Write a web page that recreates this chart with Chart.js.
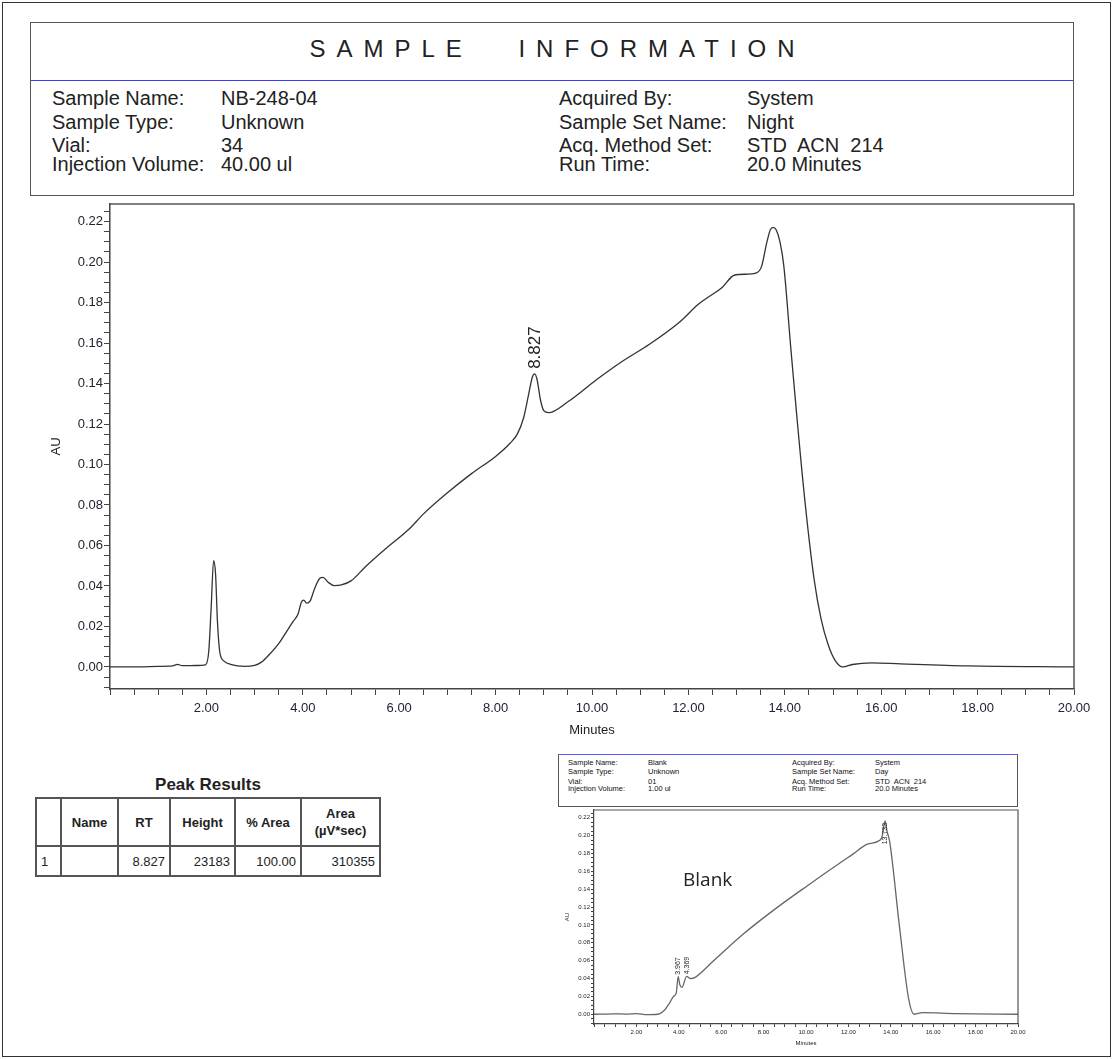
<!DOCTYPE html>
<html>
<head>
<meta charset="utf-8">
<script src="https://cdn.jsdelivr.net/npm/chart.js"></script>
<style>
  body { margin: 0; background: #fff; font-family: "Liberation Sans", Arial, sans-serif; color: #222; }
  #page { position: relative; width: 1113px; height: 1059px; overflow: hidden; }
  #frame { position: absolute; left: 2px; top: 2px; width: 1107px; height: 1053px; border: 1px solid #333; }
  .abs { position: absolute; white-space: pre; }
  #header { position: absolute; left: 30px; top: 22px; width: 1042px; height: 172px; border: 1.5px solid #555; }
  #header .title { position: absolute; left: 0; width: 100%; top: 12px; text-align: center; font-size: 24px; letter-spacing: 11px; word-spacing: 28px; padding-left: 11px; box-sizing: border-box; }
  #header .blue { position: absolute; left: 0; width: 100%; top: 57px; height: 0; border-top: 1.5px solid #3a3aff; }
  .hrow { font-size: 20px; line-height: 22px; }
  #inset-head { position: absolute; left: 558px; top: 754px; width: 458px; height: 51px; border: 1.5px solid #555; border-top: 1.5px solid #5a5aff; }
  .irow { font-size: 7.5px; line-height: 8px; color: #111; }
  #peak-title { position: absolute; left: 36px; width: 344px; top: 775px; text-align: center; font-weight: bold; font-size: 17px; }
  table { position: absolute; left: 35px; top: 797px; border-collapse: collapse; font-size: 13px; table-layout: fixed; width: 344px; }
  td, th { border: 2px solid #555; padding: 0 4px; overflow: hidden; white-space: nowrap; }
  th { height: 46px; font-weight: bold; text-align: center; line-height: 17px; }
  td { height: 28px; text-align: right; }
  #blank-label { position: absolute; left: 683px; top: 866px; font-family: "Open Sans", sans-serif; font-size: 19px; color: #222; }
</style>
</head>
<body>
<div id="page">
  <div id="frame"></div>

  <div id="header">
    <div class="title">SAMPLE INFORMATION</div>
    <div class="blue"></div>
  </div>

  <div id="inset-head"></div>

  <canvas id="mainChart" class="abs" style="left:30px; top:195px;" width="1070" height="545"></canvas>
  <canvas id="blankChart" class="abs" style="left:555px; top:805px;" width="475" height="250"></canvas>

  <div id="blank-label">Blank</div>

  <div id="peak-title">Peak Results</div>
  <table>
    <colgroup><col style="width:25px"><col style="width:57px"><col style="width:52px"><col style="width:65px"><col style="width:66px"><col style="width:79px"></colgroup>
    <tr><th></th><th>Name</th><th>RT</th><th>Height</th><th>% Area</th><th style="white-space:normal">Area<br>(µV*sec)</th></tr>
    <tr><td style="text-align:left">1</td><td></td><td id="rt"></td><td id="ht"></td><td id="pa"></td><td id="ar"></td></tr>
  </table>
</div>

<script>
// header info
const headerLabelsLeft = ["Sample Name:", "Sample Type:", "Vial:", "Injection Volume:"];
const headerValuesLeft = ["NB-248-04", "Unknown", "34", "40.00 ul"];
const headerLabelsRight = ["Acquired By:", "Sample Set Name:", "Acq. Method Set:", "Run Time:"];
const headerValuesRight = ["System", "Night", "STD  ACN  214", "20.0 Minutes"];
const blankValuesLeft = ["Blank", "Unknown", "01", "1.00 ul"];
const blankValuesRight = ["System", "Day", "STD  ACN  214", "20.0 Minutes"];

// main chromatogram (minutes, AU)
const mainTimes = [0.00, 0.60, 1.00, 1.30, 1.40, 1.50, 1.80, 1.98, 2.05, 2.10, 2.15, 2.19, 2.23, 2.28, 2.36, 2.50, 2.80,
  3.00, 3.15, 3.30, 3.50, 3.65, 3.80, 3.90, 3.97, 4.02, 4.08, 4.15, 4.25, 4.35, 4.42, 4.52, 4.65, 4.80, 5.00, 5.30,
  5.70, 6.20, 6.50, 7.00, 7.50, 8.00, 8.30, 8.45, 8.58, 8.68, 8.76, 8.81, 8.86, 8.93, 9.00, 9.10, 9.50, 10.10, 10.60,
  11.20, 11.80, 12.20, 12.40, 12.70, 12.95, 13.20, 13.40, 13.52, 13.62, 13.70, 13.76, 13.82, 13.90, 13.98, 14.13,
  14.40, 14.61, 14.75, 14.90, 15.05, 15.20, 15.40, 15.80, 16.40, 17.80, 20.00];
const mainAU = [0.0000, 0.0000, 0.0003, 0.0005, 0.0013, 0.0006, 0.0007, 0.0010, 0.0080, 0.0300, 0.0525, 0.0460, 0.0220, 0.0070, 0.0030, 0.0013, 0.0003,
  0.0008, 0.0025, 0.0060, 0.0115, 0.0170, 0.0225, 0.0260, 0.0320, 0.0330, 0.0315, 0.0325, 0.0390, 0.0437, 0.0442, 0.0420, 0.0402, 0.0405, 0.0425, 0.0495,
  0.0580, 0.0680, 0.0755, 0.0860, 0.0955, 0.1040, 0.1105, 0.1150, 0.1230, 0.1340, 0.1430, 0.1448, 0.1420, 0.1320, 0.1266, 0.1256, 0.1310, 0.1420, 0.1505,
  0.1595, 0.1700, 0.1790, 0.1825, 0.1875, 0.1935, 0.1940, 0.1945, 0.1980, 0.2090, 0.2160, 0.2172, 0.2160, 0.2100, 0.1980, 0.1560,
  0.0860, 0.0430, 0.0240, 0.0110, 0.0030, 0.0000, 0.0012, 0.0020, 0.0015, 0.0005, 0.0000];

// blank chromatogram
const blankTimes = [0.00, 1.00, 1.50, 2.00, 2.50, 3.00, 3.30, 3.55, 3.75, 3.88, 3.97, 4.05, 4.15, 4.37, 4.55, 4.75, 5.60,
  7.00, 8.55, 10.10, 11.70, 12.20, 12.90, 13.50, 13.60, 13.73, 13.82, 13.95, 14.40, 14.85, 15.10, 15.50, 17.00, 20.00];
const blankAU = [0.0000, 0.0005, 0.0002, 0.0008, -0.0005, 0.0000, 0.0040, 0.0120, 0.0200, 0.0240, 0.0420, 0.0330, 0.0300, 0.0425, 0.0400, 0.0410, 0.0590,
  0.0890, 0.1180, 0.1445, 0.1710, 0.1790, 0.1905, 0.1950, 0.2000, 0.2165, 0.2050, 0.1930, 0.1000, 0.0160, 0.0000, 0.0018, 0.0008, 0.0000];

// peak labels
const mainPeakRT = [8.827];
const mainPeakAU = [0.1448];
const blankPeakRT = [3.967, 4.369, 13.733];
const blankPeakAU = [0.0420, 0.0425, 0.2165];

// peak results table
const peakRT = "8.827", peakHeight = "23183", peakPctArea = "100.00", peakArea = "310355";

// ticks
const xTickLabels = ["2.00", "4.00", "6.00", "8.00", "10.00", "12.00", "14.00", "16.00", "18.00", "20.00"];
const yTickLabels = ["0.00", "0.02", "0.04", "0.06", "0.08", "0.10", "0.12", "0.14", "0.16", "0.18", "0.20", "0.22"];
const xMinorStep = 0.5, yMinorStep = 0.005;
const yMin = -0.0109, yMax = 0.2287;

// --- header text
function addText(parent, cls, text, left, top) {
    const d = document.createElement("div");
    d.className = "abs " + cls;
    d.style.left = left + "px";
    d.style.top = top + "px";
    d.textContent = text;
    parent.appendChild(d);
}
const header = document.getElementById("header");
const rowTops = [64, 88, 111, 130];
headerLabelsLeft.forEach((t, i) => addText(header, "hrow", t, 21, rowTops[i]));
headerValuesLeft.forEach((t, i) => addText(header, "hrow", t, 190, rowTops[i]));
headerLabelsRight.forEach((t, i) => addText(header, "hrow", t, 528, rowTops[i]));
headerValuesRight.forEach((t, i) => addText(header, "hrow", t, 716, rowTops[i]));

const inset = document.getElementById("inset-head");
const iTops = [4, 13, 23, 30];
headerLabelsLeft.forEach((t, i) => addText(inset, "irow", t, 9, iTops[i]));
blankValuesLeft.forEach((t, i) => addText(inset, "irow", t, 89, iTops[i]));
headerLabelsRight.forEach((t, i) => addText(inset, "irow", t, 233, iTops[i]));
blankValuesRight.forEach((t, i) => addText(inset, "irow", t, 316, iTops[i]));

document.getElementById("rt").textContent = peakRT;
document.getElementById("ht").textContent = peakHeight;
document.getElementById("pa").textContent = peakPctArea;
document.getElementById("ar").textContent = peakArea;

// --- charts
function tickList(min, max, step) {
    const out = [];
    for (let k = Math.ceil(min / step); k * step <= max + 1e-9; k++) out.push({ value: +(k * step).toFixed(4) });
    return out;
}

const boxPlugin = {
    id: "box",
    afterDraw(chart, args, opts) {
        const { ctx, chartArea: a } = chart;
        ctx.save();
        ctx.strokeStyle = opts.color;
        ctx.lineWidth = opts.width;
        ctx.beginPath();
        ctx.moveTo(a.left, a.top);
        ctx.lineTo(a.right, a.top);
        ctx.lineTo(a.right, a.bottom);
        ctx.stroke();
        ctx.restore();
    }
};

const peakLabelPlugin = {
    id: "peakLabels",
    afterDatasetsDraw(chart, args, opts) {
        const { ctx, scales } = chart;
        ctx.save();
        ctx.font = opts.size + "px 'Liberation Sans', Arial, sans-serif";
        ctx.fillStyle = "#222";
        opts.rt.forEach((rt, i) => {
            const px = scales.x.getPixelForValue(rt);
            const py = scales.y.getPixelForValue(opts.au[i]);
            ctx.save();
            ctx.translate(px, py);
            ctx.rotate(-Math.PI / 2);
            ctx.textBaseline = "middle";
            if (opts.below && opts.below[i]) {
                ctx.textAlign = "right";
                ctx.fillText(rt.toFixed(3), -opts.gap, 0);
            } else {
                ctx.textAlign = "left";
                ctx.fillText(rt.toFixed(3), opts.gap, 0);
            }
            ctx.restore();
        });
        ctx.restore();
    }
};

function makeChart(id, times, values, cfg) {
    const points = times.map((t, i) => ({ x: t, y: values[i] }));
    return new Chart(document.getElementById(id), {
        type: "line",
        data: { datasets: [{ data: points, borderColor: cfg.lineColor, borderWidth: cfg.lineWidth, pointRadius: 0, tension: 0.4, cubicInterpolationMode: "monotone", fill: false }] },
        plugins: [boxPlugin, peakLabelPlugin],
        options: {
            responsive: false,
            animation: false,
            layout: { padding: { top: cfg.padTop, right: cfg.padRight, left: 0, bottom: 0 } },
            plugins: {
                legend: { display: false },
                tooltip: { enabled: false },
                box: { color: "#555", width: cfg.boxWidth },
                peakLabels: { rt: cfg.peakRT, au: cfg.peakAU, below: cfg.below, size: cfg.peakFont, gap: cfg.peakGap }
            },
            scales: {
                x: {
                    type: "linear", min: 0, max: 20,
                    afterBuildTicks: ax => { ax.ticks = tickList(0, 20, xMinorStep); },
                    afterFit: ax => { ax.height = cfg.xHeight; },
                    ticks: {
                        autoSkip: false, maxRotation: 0, color: "#223", padding: cfg.tickPad,
                        font: { family: "'Liberation Sans', Arial, sans-serif", size: cfg.tickFont },
                        callback: v => { const s = v.toFixed(2); return xTickLabels.includes(s) ? s : ""; }
                    },
                    grid: { drawOnChartArea: false, tickLength: cfg.tickLen, color: "#444", tickWidth: 1 },
                    border: { color: "#444", width: cfg.boxWidth },
                    title: { display: true, text: "Minutes", color: "#222", padding: { bottom: cfg.minPad, top: 0 },
                        font: { family: "'Liberation Sans', Arial, sans-serif", size: cfg.titleFont } }
                },
                y: {
                    min: yMin, max: yMax,
                    afterBuildTicks: ax => { ax.ticks = tickList(yMin, yMax, yMinorStep); },
                    afterFit: ax => { ax.width = cfg.yWidth; },
                    ticks: {
                        autoSkip: false, color: "#223", padding: 1,
                        font: { family: "'Liberation Sans', Arial, sans-serif", size: cfg.tickFont },
                        callback: v => { const s = (Math.abs(v) < 1e-9 ? 0 : v).toFixed(2); return (yTickLabels.includes(s) && Math.abs(v - +s) < 1e-6) ? s : ""; }
                    },
                    grid: { drawOnChartArea: false, tickLength: cfg.tickLen, color: "#444", tickWidth: 1 },
                    border: { color: "#444", width: cfg.boxWidth },
                    title: { display: true, text: "AU", color: "#222", padding: { top: cfg.auPad, bottom: 0 },
                        font: { family: "'Liberation Sans', Arial, sans-serif", size: cfg.titleFont } }
                }
            }
        }
    });
}

makeChart("mainChart", mainTimes, mainAU, {
    lineColor: "#333", lineWidth: 1.3, boxWidth: 1.5, padTop: 9, padRight: 26,
    xHeight: 51, yWidth: 80, tickFont: 13, titleFont: 13, tickLen: 6, tickPad: 6,
    minPad: 2, auPad: 19, peakRT: mainPeakRT, peakAU: mainPeakAU, peakFont: 17, peakGap: 5
});

makeChart("blankChart", blankTimes, blankAU, {
    lineColor: "#666", lineWidth: 1.3, boxWidth: 1.2, padTop: 5, padRight: 12,
    xHeight: 31, yWidth: 39, tickFont: 6, titleFont: 6, tickLen: 3, tickPad: 2,
    minPad: 8, auPad: 9, peakRT: blankPeakRT, peakAU: blankPeakAU, below: [false, false, true], peakFont: 7, peakGap: 2
});
</script>
</body>
</html>
